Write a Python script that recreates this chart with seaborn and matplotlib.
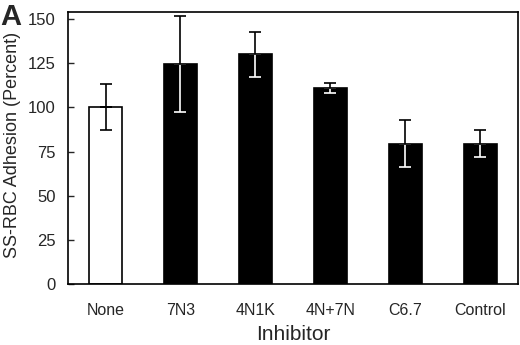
import matplotlib
matplotlib.use("Agg")
import matplotlib.pyplot as plt
import seaborn as sns
import pandas as pd
import numpy as np

categories = ["None", "7N3", "4N1K", "4N+7N", "C6.7", "Control"]
values = [100, 124.5, 130, 111, 79.5, 79.5]
errors = [13, 27, 12.5, 3, 13.5, 7.5]
bar_colors = ["white", "black", "black", "black", "black", "black"]
yticks = [0, 25, 50, 75, 100, 125, 150]

sns.set_style("white")
plt.rcParams['font.family'] = ['Liberation Sans', 'DejaVu Sans']

df = pd.DataFrame({"Inhibitor": categories, "value": values})

fig = plt.figure(figsize=(5.2, 3.45), dpi=100)
ax = fig.add_axes([0.1308, 0.177, 0.8652, 0.788])

sns.barplot(data=df, x="Inhibitor", y="value", hue="Inhibitor",
            palette=dict(zip(categories, bar_colors)), legend=False,
            width=0.43, edgecolor="black", linewidth=1.2, ax=ax, zorder=2)

x = np.arange(len(categories))
for xi, v, e, c in zip(x, values, errors, bar_colors):
    low_color = "white" if c == "black" else "black"
    ax.errorbar([xi], [v], yerr=[[e], [0]], fmt="none", ecolor=low_color,
                elinewidth=1.2, capsize=4, capthick=1.2, zorder=3)
    ax.errorbar([xi], [v], yerr=[[0], [e]], fmt="none", ecolor="black",
                elinewidth=1.2, capsize=4, capthick=1.2, zorder=4)

ax.set_xlim(-0.5, 5.5)
ax.set_ylim(0, 154)
ax.set_yticks(yticks)
ax.set_yticklabels([str(t) for t in yticks], fontsize=12)
ax.tick_params(axis="y", direction="in", length=4, width=1, left=True, pad=9)
ax.tick_params(axis="x", length=0, pad=14, labelsize=11.5)
ax.set_xlabel("Inhibitor", fontsize=15, labelpad=5)
ax.set_ylabel("SS-RBC Adhesion (Percent)", fontsize=13, labelpad=9)
ax.yaxis.set_label_coords(-0.105, 0.51)
for s in ax.spines.values():
    s.set_visible(True)
    s.set_color("black")
    s.set_linewidth(1.2)

fig.text(0.0, 0.99, "A", fontsize=21, fontweight="bold", ha="left", va="top")

fig.savefig("out.png", dpi=100)
